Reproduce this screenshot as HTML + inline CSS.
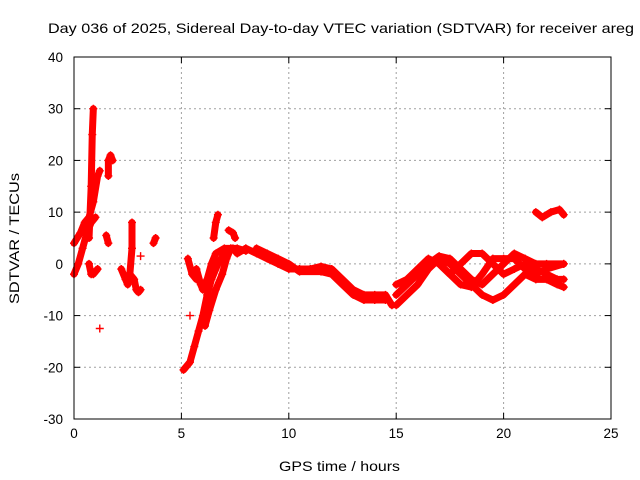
<!DOCTYPE html>
<html><head><meta charset="utf-8"><style>
body{margin:0;background:#fff}
svg{display:block;font-family:"Liberation Sans",sans-serif}
</style></head><body>
<svg id="chart" width="640" height="480" viewBox="0 0 640 480">
<text x="48" y="33" font-size="14" textLength="586" lengthAdjust="spacingAndGlyphs">Day 036 of 2025, Sidereal Day-to-day VTEC variation (SDTVAR) for receiver areg</text>
<g id="grid"></g>
<g id="ticks"></g>
<g id="marks"></g>
<rect x="74" y="57" width="537" height="362" fill="none" stroke="#000" stroke-width="1"/>
<text x="279" y="471" font-size="14" textLength="121" lengthAdjust="spacingAndGlyphs">GPS time / hours</text>
<text transform="translate(19,304) rotate(-90)" font-size="14" textLength="131" lengthAdjust="spacingAndGlyphs">SDTVAR / TECUs</text>
</svg>
<script>
const xTicks=[0,5,10,15,20,25];
const yTicks=[40,30,20,10,0,-10,-20,-30];
const track1=[[0,-2],[0.2,0],[0.4,3],[0.6,6],[0.8,8],[1.0,9]];
const track2=[[0,4],[0.3,6],[0.5,8],[0.7,9],[0.9,12],[1.1,17],[1.2,18]];
const track3=[[0.7,5],[0.8,15],[0.85,25],[0.9,30]];
const track4=[[0.7,0],[0.8,-2],[0.9,-2],[1.1,-1]];
const track5=[[1.6,17],[1.6,20],[1.7,21],[1.8,20]];
const track6=[[1.5,5.5],[1.6,4]];
const track7=[[2.2,-1],[2.4,-3],[2.5,-4],[2.6,-2],[2.7,3],[2.7,8]];
const track8=[[2.6,-2],[2.8,-3],[2.9,-5],[3.0,-5.5],[3.1,-5]];
const track9=[[3.7,4],[3.8,5]];
const track10=[[5.1,-20.5],[5.4,-19],[5.6,-16],[5.8,-13],[6.0,-10],[6.2,-6],[6.4,-3],[6.7,0],[7.0,2],[7.3,3],[7.6,3],[8.0,2.5]];
const track11=[[5.7,-1],[5.9,-4],[6.0,-5],[6.2,-3],[6.4,0],[6.6,2],[7.0,3],[7.4,3],[7.6,2],[8,3]];
const track12=[[6.1,-12],[6.3,-9],[6.6,-5],[6.9,-2],[7.1,1],[7.3,3]];
const track13=[[5.3,1],[5.5,-2],[5.7,-3]];
const track14=[[6.5,5],[6.6,8],[6.7,9.5]];
const track15=[[7.2,6.5],[7.4,6],[7.5,5]];
const track16=[[8,3],[8.5,2],[9,1],[9.5,0],[10,-1],[10.5,-1],[11,-1],[11.5,-0.5],[12,-1],[12.5,-3],[13,-5],[13.5,-6],[14,-6],[14.5,-6],[14.8,-8]];
const track17=[[8.5,3],[9,2],[9.5,1],[10,0],[10.5,-1.5],[11.5,-1.5],[12,-2],[12.5,-4],[13,-6],[13.5,-7],[14,-7],[14.5,-7]];
const track18=[[15,-8],[15.5,-6],[16,-4],[16.5,-1],[17,1],[17.5,0],[18,-2],[18.5,-4],[19,-6],[19.5,-7],[20,-6],[20.5,-4],[21,-2],[21.5,-3],[22,-3],[22.5,-4],[22.8,-4.5]];
const track19=[[15,-6],[15.5,-4],[16,-2],[16.5,0],[17,1.5],[17.5,1],[18,-1],[18.5,-3],[19,-4],[19.5,-2],[20,0],[20.5,2],[21,1],[21.5,0],[22,0],[22.8,0]];
const track20=[[15,-4],[15.5,-3],[16,-1],[16.5,1],[17,0],[17.5,-2],[18,0],[18.5,2],[19,2],[19.5,0],[20,-2],[20.5,-1],[21,0],[21.5,-1],[22,-2],[22.5,-3],[22.8,-3]];
const track21=[[17,0],[17.5,-2],[18,-4],[18.5,-4.5],[19,-2],[19.5,1],[20,1],[20.5,1],[21,-1],[21.5,-2],[22,-1],[22.8,0]];
const track22=[[21.5,10],[21.8,9],[22.2,10],[22.6,10.5],[22.8,9.5]];
const singles=[[1.2,-12.5],[3.1,1.5],[5.4,-10]];
const tracks=[track1,track2,track3,track4,track5,track6,track7,track8,track9,track10,track11,track12,track13,track14,track15,track16,track17,track18,track19,track20,track21,track22];

const X0=74,X1=611,Y0=419,Y1=57,xMin=0,xMax=25,yMin=-30,yMax=40;
const sx=v=>X0+(v-xMin)/(xMax-xMin)*(X1-X0);
const sy=v=>Y0-(v-yMin)/(yMax-yMin)*(Y0-Y1);
const NS="http://www.w3.org/2000/svg";
const mk=(t,a,p)=>{const e=document.createElementNS(NS,t);for(const k in a)e.setAttribute(k,a[k]);p.appendChild(e);return e;};
const grid=document.getElementById('grid'),ticks=document.getElementById('ticks'),marks=document.getElementById('marks');
xTicks.forEach(v=>{
  const x=sx(v);
  if(v>xMin&&v<xMax){const g=mk('line',{x1:x,x2:x,y1:Y0,y2:Y1,stroke:'#a0a0a0','stroke-dasharray':'2,3'},grid);
  
  }
  mk('line',{x1:x,x2:x,y1:Y0,y2:Y0-6,stroke:'#000'},ticks);
  mk('line',{x1:x,x2:x,y1:Y1,y2:Y1+6,stroke:'#000'},ticks);
  const t=mk('text',{x:x,y:Y0+19,'font-size':13.5,'text-anchor':'middle'},ticks);
  t.textContent=v;
  
  
});
yTicks.forEach(v=>{
  const y=sy(v);
  if(v>yMin&&v<yMax){const g=mk('line',{x1:X0,x2:X1,y1:y,y2:y,stroke:'#a0a0a0','stroke-dasharray':'2,3'},grid);
  
  }
  mk('line',{x1:X0,x2:X0+6,y1:y,y2:y,stroke:'#000'},ticks);
  mk('line',{x1:X1,x2:X1-6,y1:y,y2:y,stroke:'#000'},ticks);
  const t=mk('text',{x:X0-11,y:y+5,'font-size':13.5,'text-anchor':'end'},ticks);
  t.textContent=v;
  
  
});
function plus(x,y){
  const p=mk('path',{d:`M${x-4},${y}h8M${x},${y-4}v8`,stroke:'#f00','stroke-width':1.4},marks);
  
  
}
tracks.forEach(tr=>{
  const pl=mk('polyline',{points:tr.map(p=>sx(p[0])+','+sy(p[1])).join(' '),fill:'none',stroke:'#f00','stroke-width':7,'stroke-linejoin':'round','stroke-linecap':'round'},marks);
  
  
  tr.forEach(p=>plus(sx(p[0]),sy(p[1])));
});
singles.forEach(p=>plus(sx(p[0]),sy(p[1])));
</script>
</body></html>
